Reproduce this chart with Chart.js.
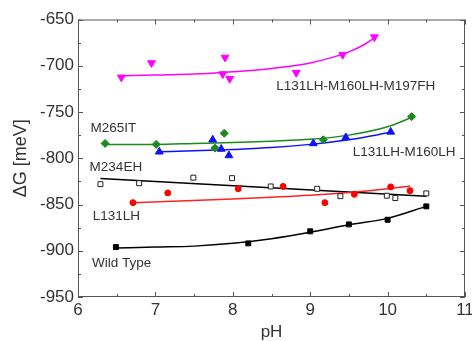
<!DOCTYPE html>
<html>
<head>
<meta charset="utf-8">
<script src="https://cdn.jsdelivr.net/npm/chart.js@4.4.0/dist/chart.umd.min.js"></script>
<style>
  html, body { margin: 0; padding: 0; background: #fff; }
  #wrap { width: 472px; height: 341px; }
</style>
</head>
<body>
<div id="wrap"><canvas id="chart"></canvas></div>
<script>
// Measured points (pH, dG in meV)
const wtPH = [6.49, 8.20, 9.00, 9.50, 10.00, 10.50];
const wtDG = [-896, -892, -879, -871.5, -866.5, -852];

const l131PH = [6.71, 7.16, 8.07, 8.65, 9.19, 9.57, 10.04, 10.29];
const l131DG = [-848, -837.5, -833, -830.5, -848, -839, -831, -835];

const m234PH = [6.29, 6.79, 7.49, 7.99, 8.49, 9.09, 9.39, 9.99, 10.10, 10.50];
const m234DG = [-828, -827, -821, -821.5, -830.5, -833, -841, -840.5, -843, -838];

const m265PH = [6.35, 7.01, 7.77, 7.89, 9.17, 10.31];
const m265DG = [-784, -785, -789, -773, -780, -755];

const dblPH = [7.05, 7.74, 7.85, 7.95, 9.04, 9.46, 10.04];
const dblDG = [-793, -780, -790, -797, -784, -777.5, -771.5];

const triPH = [6.56, 6.95, 7.90, 7.87, 7.96, 8.82, 9.42, 9.83];
const triDG = [-712.5, -697, -691, -709, -714, -707.5, -688, -669];

// Fitted curves
const wtFitPH = [6.49, 7.0, 7.5, 8.0, 8.5, 9.0, 9.5, 10.0, 10.5];
const wtFitDG = [-897, -896, -895, -892, -887, -880, -872, -865, -852];

const l131FitPH = [6.71, 8.0, 9.0, 9.5, 10.0, 10.29];
const l131FitDG = [-848, -844, -840, -837, -833, -830];

const m234FitPH = [6.29, 10.50];
const m234FitDG = [-822, -841];

const m265FitPH = [6.35, 7.0, 7.5, 8.0, 8.5, 9.0, 9.5, 10.0, 10.31];
const m265FitDG = [-785, -785, -784, -783, -781.5, -779.5, -775, -766, -756];

const dblFitPH = [7.05, 7.5, 8.0, 8.5, 9.0, 9.5, 10.04];
const dblFitDG = [-793, -792, -790.5, -788.5, -785, -780, -772];

const triFitPH = [6.56, 7.0, 7.5, 8.0, 8.5, 9.0, 9.5, 9.7, 9.83];
const triFitDG = [-711, -710, -709, -706.5, -703, -697, -685, -677, -670];

const seriesNames = ['Wild Type', 'L131LH', 'M234EH', 'M265IT', 'L131LH-M160LH', 'L131LH-M160LH-M197FH'];

function pts(xs, ys) {
    return xs.map((v, i) => ({ x: v, y: ys[i] }));
}

// Inward ticks on all four sides plus the box
const frameTicks = {
    id: 'frameTicks',
    beforeDatasetsDraw(chart) {
        const { ctx, chartArea: a, scales: { x, y } } = chart;
        ctx.save();
        ctx.strokeStyle = '#555';
        ctx.lineWidth = 1;
        ctx.strokeRect(a.left + 0.5, a.top + 0.5, a.right - a.left - 1, a.bottom - a.top - 1);
        ctx.beginPath();
        const xv = x.ticks.map(t => t.value);
        const yv = y.ticks.map(t => t.value);
        const tick = (vals, scale, horiz) => {
            vals.forEach((v, i) => {
                const marks = [[v, 5]];
                if (i < vals.length - 1) marks.push([(v + vals[i + 1]) / 2, 3]);
                marks.forEach(([m, len]) => {
                    const p = Math.round(scale.getPixelForValue(m)) + 0.5;
                    if (horiz) {
                        ctx.moveTo(p, a.bottom); ctx.lineTo(p, a.bottom - len);
                        ctx.moveTo(p, a.top); ctx.lineTo(p, a.top + len);
                    } else {
                        ctx.moveTo(a.left, p); ctx.lineTo(a.left + len, p);
                        ctx.moveTo(a.right, p); ctx.lineTo(a.right - len, p);
                    }
                });
            });
        };
        tick(xv, x, true);
        tick(yv, y, false);
        ctx.stroke();
        ctx.restore();
    }
};

// Series names written inside the plot
const seriesLabels = {
    id: 'seriesLabels',
    afterDatasetsDraw(chart) {
        const { ctx, scales: { x, y } } = chart;
        const spots = [
            [seriesNames[5], 8.56, -722],
            [seriesNames[3], 6.16, -767.5],
            [seriesNames[4], 9.55, -794],
            [seriesNames[2], 6.15, -809.5],
            [seriesNames[1], 6.19, -862.5],
            [seriesNames[0], 6.18, -913.5]
        ];
        ctx.save();
        ctx.font = '13.5px "Liberation Sans", Arial, sans-serif';
        ctx.fillStyle = '#333';
        ctx.textAlign = 'left';
        ctx.textBaseline = 'middle';
        spots.forEach(([t, px, py]) => {
            ctx.fillText(t, x.getPixelForValue(px), y.getPixelForValue(py));
        });
        ctx.restore();
    }
};

const ctx = document.getElementById('chart');
const font = { family: '"Liberation Sans", Arial, sans-serif', size: 17 };

new Chart(ctx, {
    type: 'scatter',
    data: {
        datasets: [
            { data: pts(wtPH, wtDG), pointStyle: 'rect', pointRadius: 3.5, backgroundColor: '#000', borderColor: '#000', borderWidth: 1 },
            { data: pts(l131PH, l131DG), pointStyle: 'circle', pointRadius: 3, backgroundColor: '#f00', borderColor: '#f00', borderWidth: 1 },
            { data: pts(m234PH, m234DG), pointStyle: 'rect', pointRadius: 3.5, backgroundColor: '#fff', borderColor: '#222', borderWidth: 1 },
            { data: pts(m265PH, m265DG), pointStyle: 'rectRot', pointRadius: 4, backgroundColor: '#1c8a1c', borderColor: '#1c8a1c', borderWidth: 1 },
            { data: pts(dblPH, dblDG), pointStyle: 'triangle', pointRadius: 4.5, backgroundColor: '#1010ff', borderColor: '#1010ff', borderWidth: 1 },
            { data: pts(triPH, triDG), pointStyle: 'triangle', rotation: 180, pointRadius: 4.5, backgroundColor: '#f0f', borderColor: '#f0f', borderWidth: 1 },

            { data: pts(wtFitPH, wtFitDG), showLine: true, pointRadius: 0, borderColor: '#000', borderWidth: 1.5, cubicInterpolationMode: 'monotone' },
            { data: pts(l131FitPH, l131FitDG), showLine: true, pointRadius: 0, borderColor: '#f22', borderWidth: 1.5, cubicInterpolationMode: 'monotone' },
            { data: pts(m234FitPH, m234FitDG), showLine: true, pointRadius: 0, borderColor: '#000', borderWidth: 1.5 },
            { data: pts(m265FitPH, m265FitDG), showLine: true, pointRadius: 0, borderColor: '#1c8a1c', borderWidth: 1.5, cubicInterpolationMode: 'monotone' },
            { data: pts(dblFitPH, dblFitDG), showLine: true, pointRadius: 0, borderColor: '#1010ff', borderWidth: 1.5, cubicInterpolationMode: 'monotone' },
            { data: pts(triFitPH, triFitDG), showLine: true, pointRadius: 0, borderColor: '#f0f', borderWidth: 1.5, cubicInterpolationMode: 'monotone' }
        ]
    },
    options: {
        responsive: true,
        maintainAspectRatio: false,
        animation: false,
        layout: { padding: { left: 0, right: 7, top: 19.5, bottom: 0 } },
        plugins: {
            legend: { display: false },
            tooltip: { enabled: false }
        },
        scales: {
            x: {
                type: 'linear',
                min: 6,
                max: 11,
                grid: { display: false, drawTicks: false },
                border: { display: false },
                ticks: { stepSize: 1, color: '#333', font: font, padding: 3, maxRotation: 0 },
                title: { display: true, text: 'pH', color: '#333', font: { family: font.family, size: 17, lineHeight: 1 }, padding: { top: 0, bottom: 0 } },
                afterFit(scale) {
                    scale.height = 44;
                    scale.paddingLeft = 0;
                    scale.paddingRight = 0;
                }
            },
            y: {
                min: -950,
                max: -650,
                grid: { display: false, drawTicks: false },
                border: { display: false },
                ticks: { stepSize: 50, color: '#333', font: font, padding: 4 },
                title: { display: true, text: 'ΔG [meV]', color: '#333', font: { family: font.family, size: 18 }, padding: { top: 10, bottom: 0 } },
                afterFit(scale) {
                    scale.width = 78;
                    scale.paddingTop = 0;
                    scale.paddingBottom = 0;
                }
            }
        }
    },
    plugins: [frameTicks, seriesLabels]
});
</script>
</body>
</html>
